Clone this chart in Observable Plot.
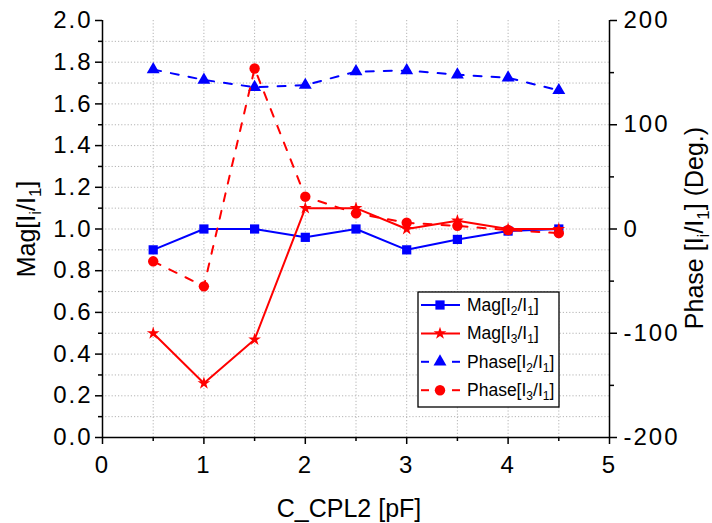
<!DOCTYPE html>
<html>
<head>
<meta charset="utf-8">
<script src="https://cdn.jsdelivr.net/npm/d3@7"></script>
<script src="https://cdn.jsdelivr.net/npm/@observablehq/plot@0.6"></script>
<style>
  body { margin: 0; background: #fff; }
  #chart svg { display: block; }
</style>
</head>
<body>
<div id="chart"></div>
<script>
// ---- data ----
const xValues = [0.5, 1, 1.5, 2, 2.5, 3, 3.5, 4, 4.5];
const magI2 = [0.90, 1.00, 1.00, 0.96, 1.00, 0.90, 0.95, 0.99, 1.00];
const magI3 = [0.50, 0.26, 0.47, 1.10, 1.10, 1.00, 1.04, 1.00, 1.00];
const phaseI2 = [153, 143, 136, 138, 151, 152, 148, 145, 133];
const phaseI3 = [-31, -55, 154, 31, 15, 6, 3, -1, -4];

const xTicks = [0, 1, 2, 3, 4, 5];
const xMinorTicks = [0.5, 1.5, 2.5, 3.5, 4.5];
const magTicks = [0, 0.2, 0.4, 0.6, 0.8, 1.0, 1.2, 1.4, 1.6, 1.8, 2.0];
const magMinorTicks = [0.1, 0.3, 0.5, 0.7, 0.9, 1.1, 1.3, 1.5, 1.7, 1.9];
const phaseTicks = [-200, -100, 0, 100, 200];
const phaseMinorTicks = [-150, -50, 50, 150];

const seriesNames = ["Mag[I2/I1]", "Mag[I3/I1]", "Phase[I2/I1]", "Phase[I3/I1]"];
const seriesColors = ["#0000ff", "#ff0000", "#0000ff", "#ff0000"];
const seriesSymbols = ["square", "star", "triangle", "circle"];

// ---- mapping phase onto the magnitude scale (dual axis) ----
const phaseToMag = p => 1 + p / 200;
const magToPhase = m => Math.round((m - 1) * 200);

const table = (vals, conv) => xValues.map((x, i) => ({x, y: conv ? conv(vals[i]) : vals[i]}));
const dataMag2 = table(magI2);
const dataMag3 = table(magI3);
const dataPh2 = table(phaseI2, phaseToMag);
const dataPh3 = table(phaseI3, phaseToMag);

const DASH = "8,10";
const R = {square: 5.2, star: 4.0, triangle: 4.8, circle: 5.2};
const gridStyle = {stroke: "#b4b4b4", strokeOpacity: 1, strokeWidth: 1, strokeDasharray: "1.2,2"};
const fontFamily = "'Liberation Sans', Arial, sans-serif";

const plot = Plot.plot({
  width: 712,
  height: 523,
  marginLeft: 102,
  marginRight: 103,
  marginTop: 20,
  marginBottom: 86,
  style: {fontFamily, fontSize: "24px", color: "#000", background: "#fff"},
  x: {domain: [0, 5], label: null},
  y: {domain: [0, 2], label: null},
  marks: [
    Plot.gridX({ticks: xMinorTicks.concat(xTicks.slice(1, 5)), ...gridStyle}),
    Plot.gridY({ticks: magMinorTicks.concat(magTicks.slice(1, 10)), ...gridStyle}),
    Plot.axisX({ticks: xTicks, tickSize: 7, tickPadding: 11, strokeWidth: 1.5, fontSize: 24, tickFormat: d => String(d), label: null}),
    Plot.axisX({ticks: xMinorTicks, tickSize: 4, strokeWidth: 1.5, fill: "none", label: null}),
    Plot.axisY({ticks: magTicks, tickSize: 7, tickPadding: 3, strokeWidth: 1.5, fontSize: 24, tickFormat: d => d.toFixed(1), label: null}),
    Plot.axisY({ticks: magMinorTicks, tickSize: 4, strokeWidth: 1.5, fill: "none", label: null}),
    Plot.axisY({anchor: "right", ticks: phaseTicks.map(phaseToMag), tickSize: 7, tickPadding: 7, strokeWidth: 1.5, fontSize: 24, tickFormat: d => String(magToPhase(d)), label: null}),
    Plot.axisY({anchor: "right", ticks: phaseMinorTicks.map(phaseToMag), tickSize: 4, strokeWidth: 1.5, fill: "none", label: null}),
    Plot.ruleX([0, 5], {stroke: "#000", strokeWidth: 1.5}),
    Plot.ruleY([0], {stroke: "#000", strokeWidth: 1.5}),
    // series
    Plot.line(dataMag2, {x: "x", y: "y", stroke: seriesColors[0], strokeWidth: 2}),
    Plot.dot(dataMag2, {x: "x", y: "y", symbol: seriesSymbols[0], fill: seriesColors[0], r: R.square}),
    Plot.line(dataMag3, {x: "x", y: "y", stroke: seriesColors[1], strokeWidth: 2}),
    Plot.dot(dataMag3, {x: "x", y: "y", symbol: seriesSymbols[1], fill: seriesColors[1], r: R.star}),
    Plot.line(dataPh2, {x: "x", y: "y", stroke: seriesColors[2], strokeWidth: 2, strokeDasharray: DASH}),
    Plot.dot(dataPh2, {x: "x", y: "y", symbol: seriesSymbols[2], fill: seriesColors[2], r: R.triangle}),
    Plot.line(dataPh3, {x: "x", y: "y", stroke: seriesColors[3], strokeWidth: 2, strokeDasharray: DASH}),
    Plot.dot(dataPh3, {x: "x", y: "y", symbol: seriesSymbols[3], fill: seriesColors[3], r: R.circle})
  ]
});
document.getElementById("chart").appendChild(plot);

const svg = d3.select(plot);
// the reference's tick labels are slightly wider-set
svg.selectAll('g[aria-label$="tick label"] text').style("letter-spacing", "2px");

// ---- titles with subscripts ----
function richText(g, parts, size, anchor) {
  const subSize = Math.round(size * 0.68);
  const shift = Math.round(size * 0.22);
  const t = g.append("text")
    .attr("font-family", fontFamily)
    .attr("font-size", size)
    .attr("text-anchor", anchor)
    .attr("fill", "#000");
  let lowered = false;
  parts.forEach(([str, sub]) => {
    const ts = t.append("tspan").attr("font-size", sub ? subSize : size).text(str);
    if (sub && !lowered) { ts.attr("dy", shift); lowered = true; }
    else if (!sub && lowered) { ts.attr("dy", -shift); lowered = false; }
  });
  return t;
}
// left
richText(svg.append("g").attr("transform", "translate(35,229) rotate(-90)"),
  [["Mag[I"], ["i", 1], ["/I"], ["1", 1], ["]"]], 25, "middle");
// right
richText(svg.append("g").attr("transform", "translate(703,228) rotate(-90)"),
  [["Phase [I"], ["i", 1], ["/I"], ["1", 1], ["] (Deg.)"]], 25, "middle");
// bottom
richText(svg.append("g").attr("transform", "translate(349,517)"),
  [["C_CPL2 [pF]"]], 25, "middle");

// ---- legend ----
const lg = svg.append("g");
lg.append("rect").attr("x", 418).attr("y", 292).attr("width", 141).attr("height", 115)
  .attr("fill", "#fff").attr("stroke", "#000").attr("stroke-width", 1.3);
const symMap = {square: d3.symbolSquare, star: d3.symbolStar, triangle: d3.symbolTriangle, circle: d3.symbolCircle};
const legendParts = [
  [["Mag[I"], ["2", 1], ["/I"], ["1", 1], ["]"]],
  [["Mag[I"], ["3", 1], ["/I"], ["1", 1], ["]"]],
  [["Phase[I"], ["2", 1], ["/I"], ["1", 1], ["]"]],
  [["Phase[I"], ["3", 1], ["/I"], ["1", 1], ["]"]]
];
seriesNames.forEach((name, i) => {
  const cy = 305 + i * 28.4;
  const col = seriesColors[i];
  if (i < 2) {
    lg.append("line").attr("x1", 421).attr("x2", 460).attr("y1", cy).attr("y2", cy)
      .attr("stroke", col).attr("stroke-width", 2);
  } else {
    [[421, 429], [452, 460]].forEach(([a, b]) =>
      lg.append("line").attr("x1", a).attr("x2", b).attr("y1", cy).attr("y2", cy)
        .attr("stroke", col).attr("stroke-width", 2));
  }
  const r = R[seriesSymbols[i]];
  lg.append("path").attr("d", d3.symbol(symMap[seriesSymbols[i]], Math.PI * r * r)())
    .attr("transform", `translate(440,${cy})`).attr("fill", col);
  const g = lg.append("g").attr("transform", `translate(467,${cy + 6})`);
  richText(g, legendParts[i], 17.5, "start").attr("aria-label", name);
});
</script>
</body>
</html>
